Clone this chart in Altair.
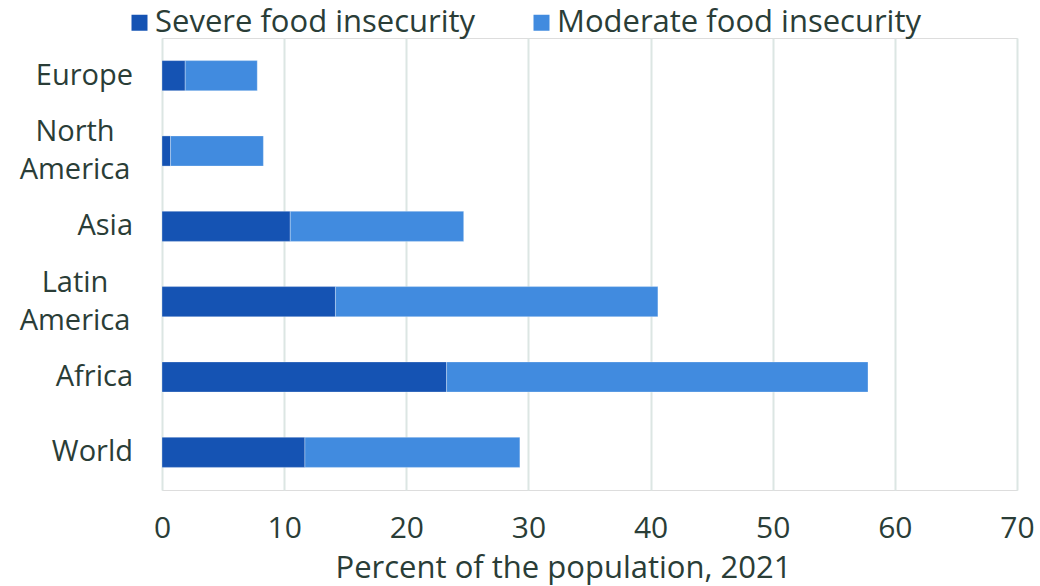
import altair as alt
import pandas as pd

# Food insecurity by region, share of population (2021)
regions = ["Europe", "North America", "Asia", "Latin America", "Africa", "World"]
region_labels = ["Europe", "North\nAmerica", "Asia", "Latin\nAmerica", "Africa", "World"]
severe = [1.9, 0.7, 10.5, 14.2, 23.3, 11.7]
moderate = [5.9, 7.6, 14.2, 26.4, 34.5, 17.6]

series = ["Severe food insecurity", "Moderate food insecurity"]
colors = ["#1553b3", "#418bdf"]

FONT = "Open Sans"
INK = "#2a3d37"

rows = []
for r, s, m in zip(regions, severe, moderate):
    rows.append({"region": r, "type": series[0], "value": s, "order": 0})
    rows.append({"region": r, "type": series[1], "value": m, "order": 1})
df = pd.DataFrame(rows)

labels = pd.DataFrame({"region": regions, "label": region_labels})
labels["multi"] = labels["label"].str.contains("\n")

y_scale = alt.Scale(domain=regions, paddingInner=0.6, paddingOuter=0.3)

bars = alt.Chart(df).mark_bar(stroke="#ffffff", strokeWidth=0.6, strokeOpacity=0.5).encode(
    y=alt.Y("region:N", scale=y_scale, axis=None, sort=regions),
    x=alt.X(
        "value:Q",
        stack="zero",
        scale=alt.Scale(domain=[0, 70], nice=False),
        axis=alt.Axis(
            values=[0, 10, 20, 30, 40, 50, 60, 70],
            title="Percent of the population, 2021",
            grid=True,
            gridColor="#dce6e3",
            gridWidth=2,
            domain=False,
            ticks=False,
            labelFlush=False,
            labelFontSize=30,
            labelColor=INK,
            labelFont=FONT,
            labelPadding=23,
            titleFont=FONT,
            titleFontSize=31,
            titleFontWeight="normal",
            titleColor=INK,
            titlePadding=10,
            titleX=401,
            titleAlign="center",
        ),
    ),
    color=alt.Color(
        "type:N",
        scale=alt.Scale(domain=series, range=colors),
        legend=alt.Legend(
            title=None,
            orient="none",
            legendX=-38,
            legendY=-31,
            direction="horizontal",
            symbolType="square",
            symbolSize=256,
            symbolStrokeWidth=0,
            labelFont=FONT,
            labelFontSize=31,
            labelColor=INK,
            labelOffset=0,
            labelLimit=0,
            columnPadding=50,
            padding=0,
        ),
    ),
    order=alt.Order("order:Q"),
)

single = alt.Chart(labels).transform_filter("!datum.multi").mark_text(
    align="right", baseline="middle", font=FONT, fontSize=29, color=INK
).encode(
    y=alt.Y("region:N", scale=y_scale, axis=None, sort=regions),
    x=alt.value(-29),
    text="label:N",
)

multi = alt.Chart(labels).transform_filter("datum.multi").transform_calculate(
    lines="split(datum.label, '\\n')"
).mark_text(
    align="center", baseline="middle", font=FONT, fontSize=29, color=INK,
    lineHeight=38, dy=-19
).encode(
    y=alt.Y("region:N", scale=y_scale, axis=None, sort=regions),
    x=alt.value(-87),
    text="lines:N",
)

chart = (
    alt.layer(bars, single, multi)
    .properties(
        width=855,
        height=452,
        autosize=alt.AutoSizeParams(type="none"),
        padding={"left": 162, "top": 38, "right": 23, "bottom": 96},
    )
    .configure_view(stroke=None)
    .configure(background="#ffffff")
)

chart.save("out.html", embed_options={"renderer": "svg", "actions": False})
